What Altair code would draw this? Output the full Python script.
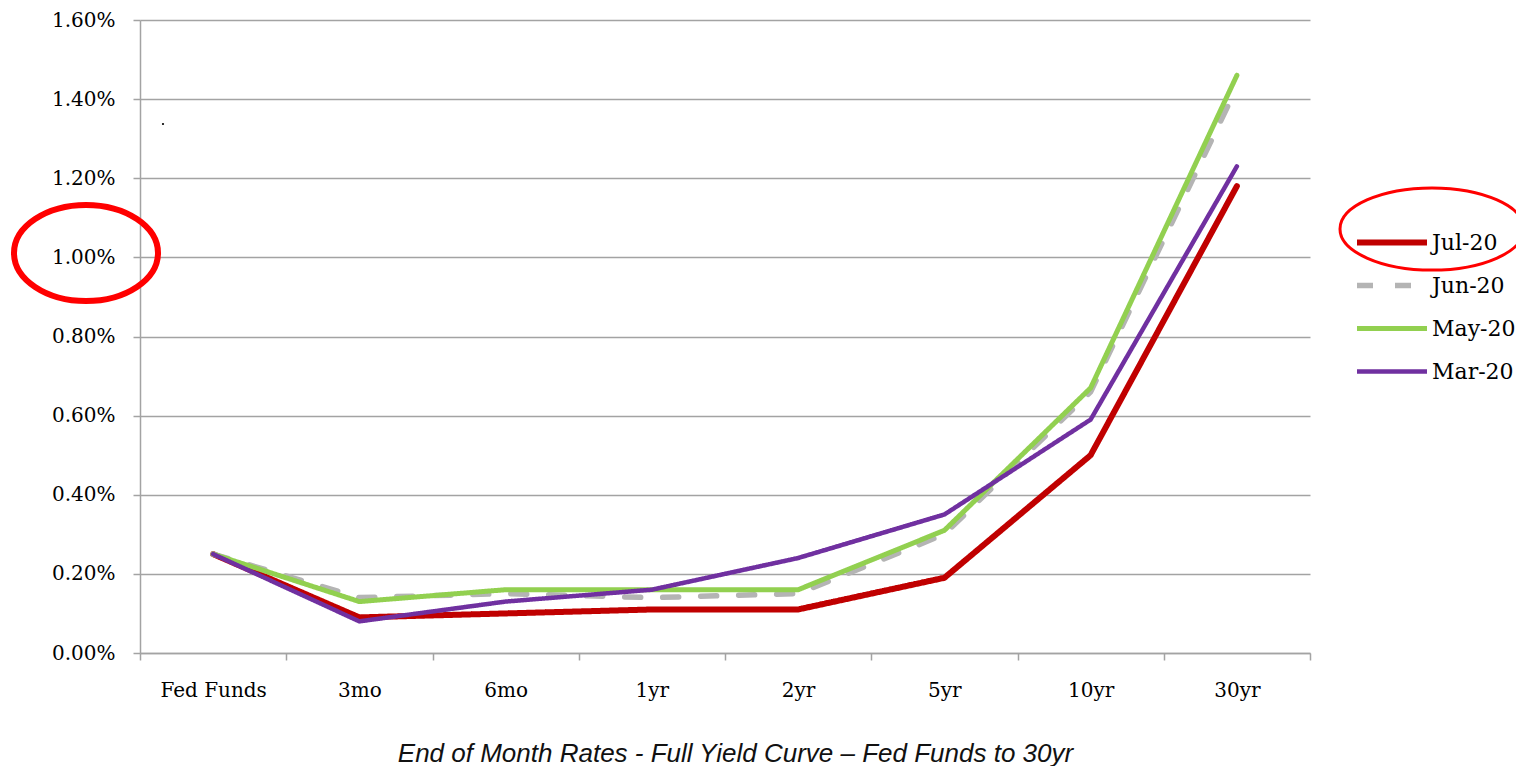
import altair as alt
import pandas as pd

tenors = ["Fed Funds", "3mo", "6mo", "1yr", "2yr", "5yr", "10yr", "30yr"]
series = ["Jul-20", "Jun-20", "May-20", "Mar-20"]
jul20 = [0.25, 0.09, 0.10, 0.11, 0.11, 0.19, 0.50, 1.18]
jun20 = [0.25, 0.14, 0.15, 0.14, 0.15, 0.30, 0.66, 1.43]
may20 = [0.25, 0.13, 0.16, 0.16, 0.16, 0.31, 0.67, 1.46]
mar20 = [0.25, 0.08, 0.13, 0.16, 0.24, 0.35, 0.59, 1.23]
y_ticks = [0.0, 0.2, 0.4, 0.6, 0.8, 1.0, 1.2, 1.4, 1.6]
colors = ["#C00000", "#B4B4B4", "#92D050", "#7030A0"]
title_text = "End of Month Rates - Full Yield Curve \u2013 Fed Funds to 30yr"

rows = []
for name, vals in zip(series, [jul20, jun20, may20, mar20]):
    for t, v in zip(tenors, vals):
        rows.append({"tenor": t, "rate": v, "series": name})
df = pd.DataFrame(rows)

W, H = 1170, 633
GRID = "#a3a3a3"
SERIF = "DejaVu Serif"

legend_common = dict(
    title=None,
    orient="none",
    legendX=1214,
    legendY=201,
    symbolType="stroke",
    symbolSize=4900,
    labelFont=SERIF,
    labelFontSize=22,
    labelColor="#000000",
    labelOffset=2,
    padding=0,
    symbolOffset=0,
    rowPadding=0,
    clipHeight=43,
)

lines = alt.Chart(df).mark_line(strokeCap="round").encode(
    x=alt.X(
        "tenor:N",
        sort=tenors,
        bandPosition=0.5,
        scale=alt.Scale(type="band", domain=tenors, paddingInner=0, paddingOuter=0),
        axis=alt.Axis(
            tickBand="extent",
            tickSize=7,
            tickColor=GRID,
            tickWidth=1.5,
            domainColor=GRID,
            domainWidth=1.5,
            labelFont=SERIF,
            labelFontSize=20,
            labelColor="#000000",
            labelAngle=0,
            labelPadding=20,
            grid=False,
            title=title_text,
            titleFont="Liberation Sans",
            titleFontStyle="italic",
            titleFontWeight="normal",
            titleFontSize=26,
            titleColor="#111111",
            titleX=595,
            titleY=108,
            titleAlign="center",
            titleBaseline="alphabetic",
        ),
    ),
    y=alt.Y(
        "rate:Q",
        scale=alt.Scale(domain=[0, 1.6], nice=False, zero=True),
        axis=alt.Axis(
            values=y_ticks,
            labelExpr="format(datum.value, '.2f') + '%'",
            grid=True,
            gridColor=GRID,
            gridWidth=1.5,
            tickSize=7,
            tickColor=GRID,
            tickWidth=1.5,
            domainColor=GRID,
            domainWidth=1.5,
            labelFont=SERIF,
            labelFontSize=20,
            labelColor="#000000",
            labelPadding=18,
            title=None,
        ),
    ),
    color=alt.Color(
        "series:N",
        sort=series,
        scale=alt.Scale(domain=series, range=colors),
        legend=alt.Legend(**legend_common),
    ),
    strokeDash=alt.StrokeDash(
        "series:N",
        sort=series,
        scale=alt.Scale(domain=series, range=[[1, 0], [16, 22], [1, 0], [1, 0]]),
        legend=alt.Legend(**legend_common),
    ),
    strokeWidth=alt.StrokeWidth(
        "series:N",
        sort=series,
        scale=alt.Scale(domain=series, range=[6, 4.5, 4.5, 4.5]),
        legend=alt.Legend(**legend_common),
    ),
)

one = pd.DataFrame({"k": [0]})

circle_axis = alt.Chart(one).mark_point(
    shape="M-1,0A1,0.667,0,1,1,1,0A1,0.667,0,1,1,-1,0Z",
    filled=False,
    stroke="#FF0000",
    strokeWidth=6,
    size=20736,
    opacity=1,
).encode(x=alt.value(-54), y=alt.value(233))

circle_legend = alt.Chart(one).mark_point(
    shape="M-1,0A1,0.446,0,1,1,1,0A1,0.446,0,1,1,-1,0Z",
    filled=False,
    stroke="#FF0000",
    strokeWidth=3,
    size=33856,
    opacity=1,
).encode(x=alt.value(1292), y=alt.value(209))

dot = alt.Chart(one).mark_point(
    shape="circle", filled=True, color="#000000", size=5, opacity=1
).encode(x=alt.value(23), y=alt.value(104))

chart = (
    alt.layer(lines, circle_axis, circle_legend, dot)
    .properties(
        width=W,
        height=H,
        autosize=alt.AutoSizeParams(type="none"),
        padding={"left": 132, "top": 12, "right": 206, "bottom": 113},
    )
    .configure_view(strokeWidth=0)
)

chart.save("out.html", embed_options={"renderer": "svg", "actions": False})
